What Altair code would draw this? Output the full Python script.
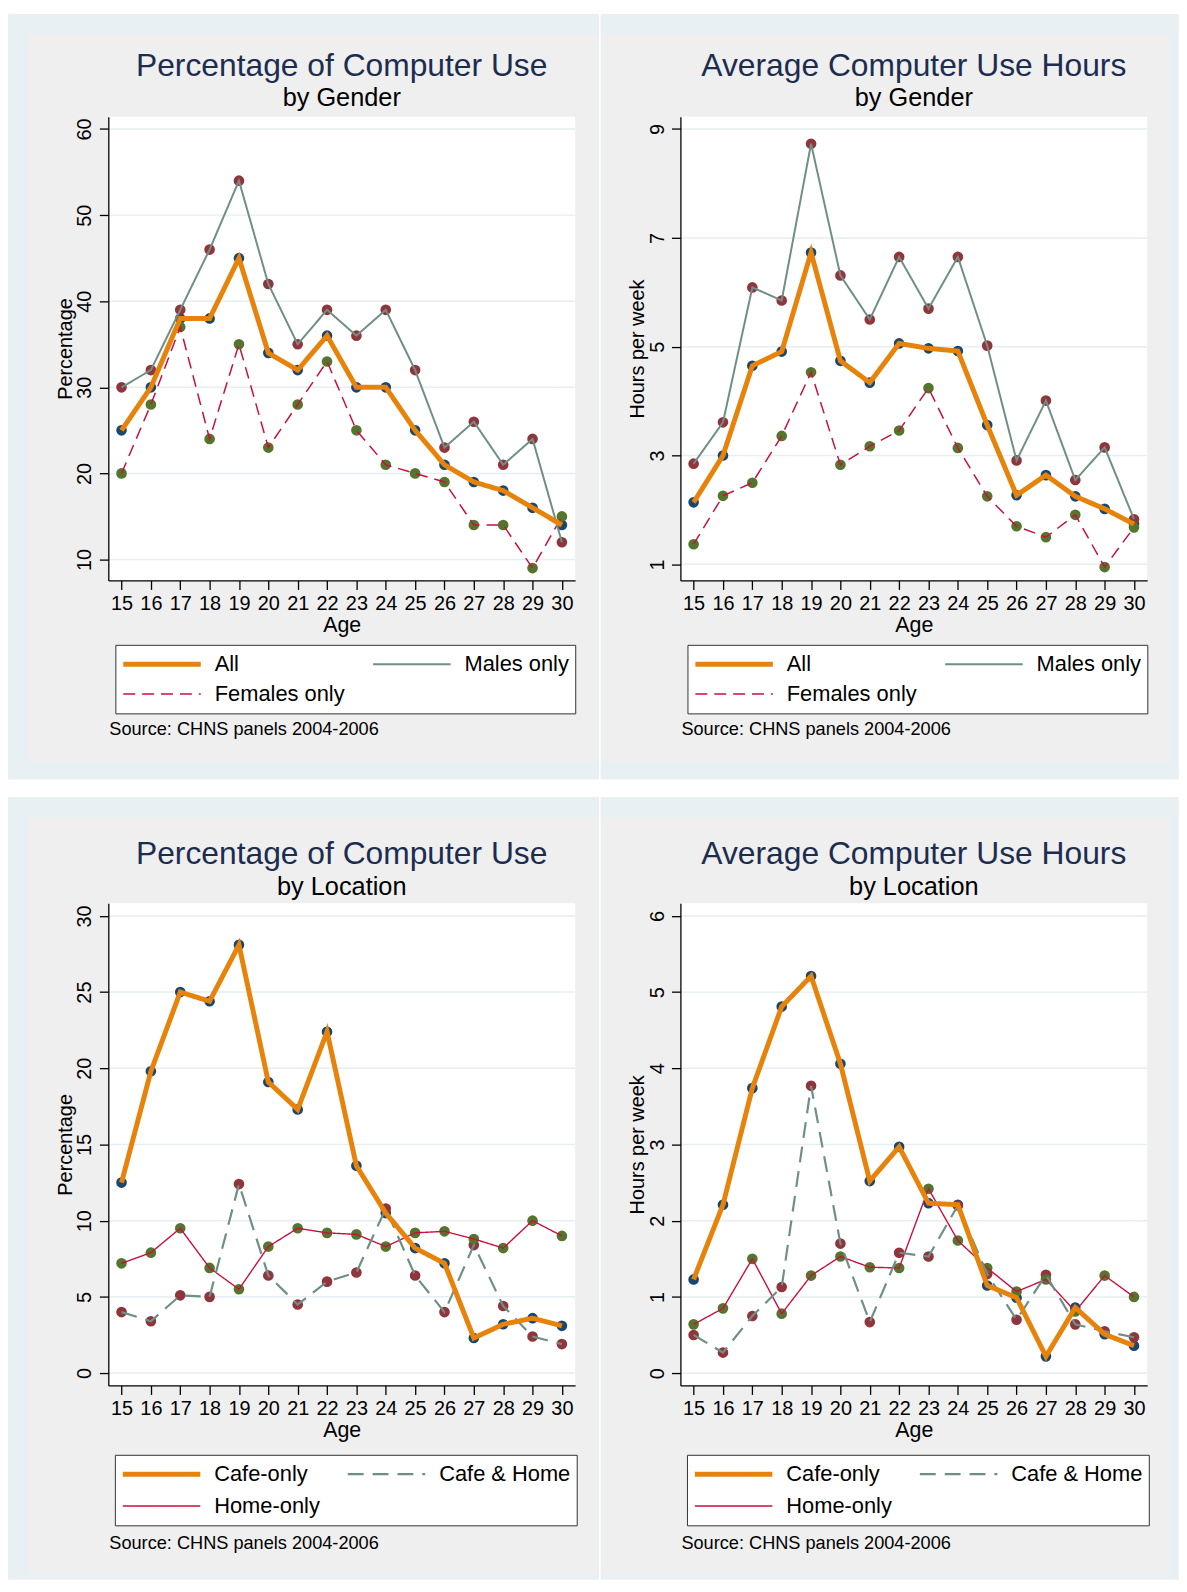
import altair as alt
import pandas as pd

FONT = "Liberation Sans"
NAVY = "#1c2d4f"
BLUE_BG = "#e8f0f3"
GREY_BG = "#efefef"
GRID = "#e6eef1"

ages = list(range(15, 31))
age_ticks = list(range(15, 31))

# Percentage of computer use by gender
pct_all = [25, 30, 38, 38, 45, 34, 32, 36, 30, 30, 25, 21, 19, 18, 16, 14]
pct_male = [30, 32, 39, 46, 54, 42, 35, 39, 36, 39, 32, 23, 26, 21, 24, 12]
pct_female = [20, 28, 37, 24, 35, 23, 28, 33, 25, 21, 20, 19, 14, 14, 9, 15]

# Average computer use hours by gender
hrs_all = [2.14, 3.00, 4.65, 4.91, 6.73, 4.74, 4.34, 5.06, 4.97, 4.92, 3.56, 2.27, 2.64, 2.25, 2.02, 1.74]
hrs_male = [2.85, 3.61, 6.09, 5.85, 8.73, 6.31, 5.50, 6.65, 5.70, 6.65, 5.02, 2.91, 4.01, 2.55, 3.15, 1.83]
hrs_female = [1.37, 2.26, 2.50, 3.36, 4.53, 2.83, 3.17, 3.46, 4.24, 3.14, 2.25, 1.70, 1.50, 1.91, 0.95, 1.68]

# Percentage of computer use by location
pct_cafe = [12.5, 19.8, 25.0, 24.4, 28.1, 19.1, 17.3, 22.4, 13.6, 10.5, 8.2, 7.2, 2.3, 3.2, 3.6, 3.1]
pct_both = [4.0, 3.4, 5.1, 5.0, 12.4, 6.4, 4.5, 6.0, 6.6, 10.8, 6.4, 4.0, 8.4, 4.4, 2.4, 1.9]
pct_home = [7.2, 7.9, 9.5, 6.9, 5.5, 8.3, 9.5, 9.2, 9.1, 8.3, 9.2, 9.3, 8.8, 8.2, 10.0, 9.0]

# Average computer use hours by location
hrs_cafe = [1.23, 2.21, 3.74, 4.81, 5.21, 4.06, 2.52, 2.97, 2.23, 2.21, 1.15, 0.99, 0.22, 0.86, 0.51, 0.36]
hrs_both = [0.50, 0.27, 0.75, 1.13, 3.77, 1.70, 0.67, 1.58, 1.53, 2.20, 1.30, 0.70, 1.29, 0.64, 0.55, 0.47]
hrs_home = [0.64, 0.85, 1.50, 0.78, 1.28, 1.53, 1.39, 1.38, 2.42, 1.74, 1.38, 1.07, 1.23, 0.81, 1.28, 1.00]

gender_names = ["All", "Males only", "Females only"]
location_names = ["Cafe-only", "Cafe & Home", "Home-only"]

pct_ticks = [10, 20, 30, 40, 50, 60]
hrs_ticks = [1, 3, 5, 7, 9]
loc_pct_ticks = [0, 5, 10, 15, 20, 25, 30]
loc_hrs_ticks = [0, 1, 2, 3, 4, 5, 6]

source_note = "Source: CHNS panels 2004-2006"

marker_colors = ["#1a476f", "#90353b", "#55752f"]
gender_line_colors = ["#e7830b", "#6f8f85", "#c8103e"]
gender_dashes = [[1, 0], [1, 0], [12, 7]]
gender_widths = [5, 2, 1.5]
loc_line_colors = ["#e7830b", "#6f8f85", "#c8103e"]
loc_dashes = [[1, 0], [16, 9], [1, 0]]
loc_widths = [5, 2.2, 1.4]

X_DOMAIN = [14.55, 30.45]


def panel(title, subtitle, ytitle, names, series, line_colors, dashes, widths,
          yticks, ydomain, W, H, geo):
    rows = []
    # draw order: last name first so the first series ends on top
    for name, vals in reversed(list(zip(names, series))):
        for a, v in zip(ages, vals):
            rows.append({"age": a, "value": v, "series": name})
    df = pd.DataFrame(rows)
    one = pd.DataFrame({"note": [source_note], "title": [title], "subtitle": [subtitle]})
    grid_df = pd.DataFrame({"value": yticks})

    xs = alt.Scale(domain=X_DOMAIN, nice=False, zero=False)
    ys = alt.Scale(domain=ydomain, nice=False, zero=False)

    xaxis = alt.Axis(values=age_ticks, format="d", title="Age", labelAngle=0,
                     tickSize=9, labelPadding=4.5, titlePadding=1,
                     labelFontSize=20, titleFontSize=21.5, grid=False, zindex=1,
                     labelFlush=False, labelOverlap=False)
    yaxis = alt.Axis(values=yticks, format="d", title=ytitle, labelAngle=270,
                     labelAlign="center", labelBaseline="bottom",
                     tickSize=9, labelPadding=4.5, titlePadding=0,
                     labelFontSize=20, titleFontSize=20, grid=False, zindex=1,
                     labelFlush=False, labelOverlap=False)

    blu = alt.Chart(one).mark_rect(color=BLUE_BG).encode(
        x=alt.value(geo["bl"]), x2=alt.value(geo["br"]),
        y=alt.value(geo["bt"]), y2=alt.value(geo["bb"]))
    grey = alt.Chart(one).mark_rect(color=GREY_BG).encode(
        x=alt.value(geo["gl"]), x2=alt.value(geo["gr"]),
        y=alt.value(geo["gt"]), y2=alt.value(geo["gb"]))
    white = alt.Chart(one).mark_rect(color="white").encode(
        x=alt.value(0), x2=alt.value(W), y=alt.value(0), y2=alt.value(H))
    grid = alt.Chart(grid_df).mark_rule(color=GRID, strokeWidth=1.5).encode(
        y=alt.Y("value:Q", scale=ys, axis=yaxis))

    # one marker layer per series, each with its own fixed colour
    pts_layers = []
    for name, mcol in zip(names, marker_colors):
        pts_layers.append(
            alt.Chart(df).transform_filter(alt.datum.series == name)
            .mark_circle(size=115, opacity=1, color=mcol).encode(
                x=alt.X("age:Q", scale=xs, axis=xaxis),
                y=alt.Y("value:Q", scale=ys, axis=yaxis)))

    leg = alt.Legend(title=None, orient="none", legendX=geo["lx"], legendY=geo["ly"],
                     direction="horizontal", columns=2, symbolType="stroke",
                     symbolSize=6084, clipHeight=27.8, rowPadding=geo["rp"],
                     columnPadding=25.5, labelOffset=11.5, padding=5.5,
                     strokeColor="#333333", fillColor="white", labelFontSize=22,
                     labelFont=FONT, labelColor="black", labelLimit=400, zindex=2)

    lines = alt.Chart(df).mark_line().encode(
        x=alt.X("age:Q", scale=xs, axis=xaxis),
        y=alt.Y("value:Q", scale=ys, axis=yaxis),
        color=alt.Color("series:N", scale=alt.Scale(domain=names, range=line_colors),
                        legend=leg),
        strokeDash=alt.StrokeDash("series:N", scale=alt.Scale(domain=names, range=dashes),
                                  legend=leg),
        strokeWidth=alt.StrokeWidth("series:N",
                                    scale=alt.Scale(type="ordinal", domain=names, range=widths),
                                    legend=leg),
    )

    src = alt.Chart(one).mark_text(align="left", baseline="middle", fontSize=18.3,
                                   font=FONT, color="black").encode(
        x=alt.value(1), y=alt.value(geo["sy"]), text="note:N")
    ttl = alt.Chart(one).mark_text(align="center", baseline="middle", fontSize=32,
                                   font=FONT, color=NAVY).encode(
        x=alt.value(W / 2), y=alt.value(geo["ty"]), text="title:N")
    sub = alt.Chart(one).mark_text(align="center", baseline="middle", fontSize=25.5,
                                   font=FONT, color="black").encode(
        x=alt.value(W / 2), y=alt.value(geo["sty"]), text="subtitle:N")

    return alt.layer(blu, grey, white, grid, *pts_layers, lines, src, ttl, sub).properties(
        width=W, height=H)


W = 470
H_TOP = 467
H_BOT = 485.5

geo_tl = dict(bl=-100.9, br=494.1, bt=-103.5, bb=667.5,
              gl=-80.9, gr=493.6, gt=-83.5, gb=649.5,
              lx=7.1, ly=531.8, rp=2.2, sy=617.5, ty=-51, sty=-18.5)
geo_tr = dict(bl=-80.3, br=501.7, bt=-103.5, bb=667.5,
              gl=-79.8, gr=492.7, gt=-83.5, gb=649.5,
              lx=7.1, ly=531.8, rp=2.2, sy=617.5, ty=-51, sty=-18.5)
geo_bl = dict(bl=-100.9, br=494.1, bt=-107, bb=681,
              gl=-80.9, gr=493.6, gt=-87, gb=676,
              lx=6.6, ly=555.3, rp=4.2, sy=645, ty=-50, sty=-16)
geo_br = dict(bl=-80.3, br=501.7, bt=-107, bb=681,
              gl=-79.8, gr=492.7, gt=-87, gb=676,
              lx=6.6, ly=555.3, rp=4.2, sy=645, ty=-50, sty=-16)

p1 = panel("Percentage of Computer Use", "by Gender", "Percentage", gender_names,
           [pct_all, pct_male, pct_female], gender_line_colors, gender_dashes,
           gender_widths, pct_ticks, [7.56, 61.44], W, H_TOP, geo_tl)
p2 = panel("Average Computer Use Hours", "by Gender", "Hours per week", gender_names,
           [hrs_all, hrs_male, hrs_female], gender_line_colors, gender_dashes,
           gender_widths, hrs_ticks, [0.704, 9.228], W, H_TOP, geo_tr)
p3 = panel("Percentage of Computer Use", "by Location", "Percentage", location_names,
           [pct_cafe, pct_both, pct_home], loc_line_colors, loc_dashes,
           loc_widths, loc_pct_ticks, [-0.815, 30.83], W, H_BOT, geo_bl)
p4 = panel("Average Computer Use Hours", "by Location", "Hours per week", location_names,
           [hrs_cafe, hrs_both, hrs_home], loc_line_colors, loc_dashes,
           loc_widths, loc_hrs_ticks, [-0.162, 6.166], W, H_BOT, geo_br)

IND = dict(x="independent", y="independent", color="independent",
           strokeDash="independent", strokeWidth="independent")
LEG_IND = dict(color="independent", strokeDash="independent", strokeWidth="independent")

row1 = alt.hconcat(p1, p2, spacing=0).resolve_scale(**IND).resolve_legend(**LEG_IND)
row2 = alt.hconcat(p3, p4, spacing=0).resolve_scale(**IND).resolve_legend(**LEG_IND)

chart = alt.vconcat(row1, row2, spacing=17).resolve_scale(**IND).resolve_legend(
    **LEG_IND
).properties(
    padding=0, background="white"
).configure_view(stroke=None).configure_axis(
    labelFont=FONT, titleFont=FONT, labelColor="black", titleColor="black",
    domainColor="black", tickColor="black", domainWidth=1.3, tickWidth=1.3,
    titleFontWeight="normal"
).configure_legend(labelFont=FONT)

chart.save("out.html", embed_options={"renderer": "svg", "actions": False})
